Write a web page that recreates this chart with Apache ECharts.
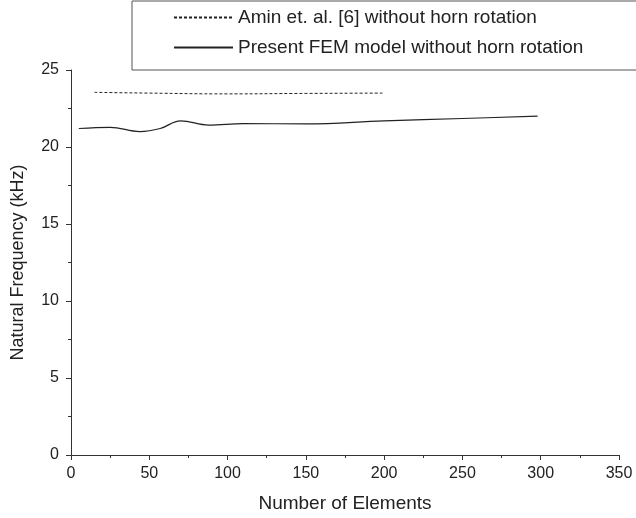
<!DOCTYPE html>
<html><head><meta charset="utf-8">
<script src="https://cdn.jsdelivr.net/npm/echarts@6/dist/echarts.min.js"></script>
<style>html,body{margin:0;padding:0;background:#fff}#c{width:636px;height:518px}</style>
</head><body><div id="c"></div>
<script>
const aminX = [15, 50, 100, 150, 199];
const aminY = [23.55, 23.5, 23.45, 23.48, 23.5];
const femX = [5, 25, 44, 57, 70, 88, 110, 150, 200, 250, 298];
const femY = [21.2, 21.28, 21.0, 21.2, 21.7, 21.42, 21.52, 21.5, 21.7, 21.85, 22.0];
const aminName = 'Amin et. al. [6] without horn rotation';
const femName = 'Present FEM model without horn rotation';
const font = 'Liberation Sans, Arial, sans-serif';
const chart = echarts.init(document.getElementById('c'));
chart.setOption({
  animation: false,
  grid: {left: 71, right: 17, top: 70, bottom: 63},
  graphic: [{type: 'rect', shape: {x: 132, y: 1, width: 520, height: 69}, style: {fill: 'none', stroke: '#555', lineWidth: 1}, z: 0}],
  legend: {
    orient: 'vertical', left: 173, top: 8, padding: 0, itemWidth: 59, itemHeight: 14, itemGap: 11,
    itemStyle: {opacity: 0},
    textStyle: {fontFamily: font, fontSize: 19, color: '#222'},
    data: [aminName, femName]
  },
  xAxis: {
    type: 'value', min: 0, max: 350, interval: 50,
    name: 'Number of Elements', nameLocation: 'middle', nameGap: 39,
    nameTextStyle: {fontFamily: font, fontSize: 19, color: '#222'},
    axisLine: {lineStyle: {color: '#333'}},
    axisTick: {inside: false, length: 5, lineStyle: {color: '#333'}},
    minorTick: {show: true, splitNumber: 2, length: 3, lineStyle: {color: '#333'}},
    axisLabel: {fontFamily: font, fontSize: 16, color: '#222', margin: 11},
    splitLine: {show: false}
  },
  yAxis: {
    type: 'value', min: 0, max: 25, interval: 5,
    name: 'Natural Frequency (kHz)', nameLocation: 'middle', nameGap: 44,
    nameTextStyle: {fontFamily: font, fontSize: 18, color: '#222'},
    axisLine: {show: true, lineStyle: {color: '#333'}},
    axisTick: {show: true, inside: false, length: 5, lineStyle: {color: '#333'}},
    minorTick: {show: true, splitNumber: 2, length: 3, lineStyle: {color: '#333'}},
    axisLabel: {fontFamily: font, fontSize: 16, color: '#222', margin: 12},
    splitLine: {show: false}
  },
  series: [
    {name: aminName, type: 'line', smooth: true, showSymbol: false, symbol: 'none',
     data: aminX.map((x, i) => [x, aminY[i]]),
     lineStyle: {color: '#222', width: 1, type: [3, 2]}, itemStyle: {color: '#222'}},
    {name: femName, type: 'line', smooth: 0.4, showSymbol: false, symbol: 'none',
     data: femX.map((x, i) => [x, femY[i]]),
     lineStyle: {color: '#222', width: 1.2}, itemStyle: {color: '#222'}}
  ]
});
</script></body></html>
